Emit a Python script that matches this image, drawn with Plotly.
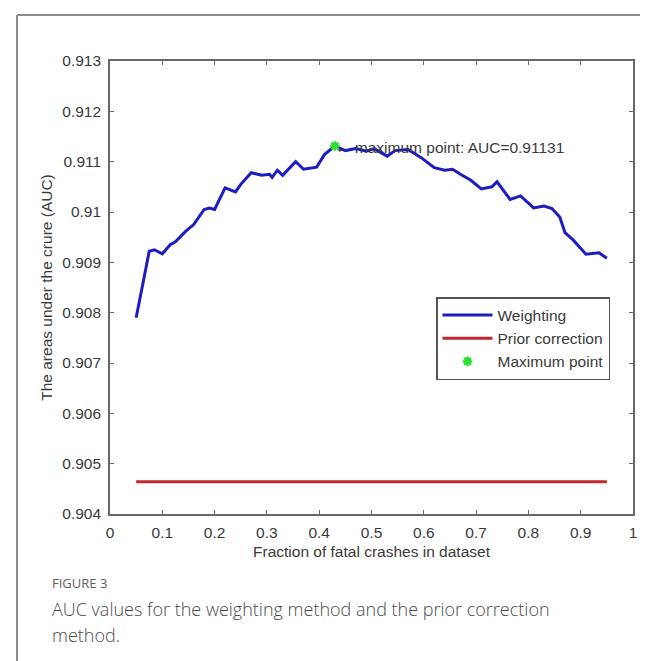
import plotly.graph_objects as go

# Weighting method: AUC vs fraction of fatal crashes
frac_weight = [0.05, 0.075, 0.085, 0.10, 0.115, 0.125, 0.145, 0.16, 0.18, 0.19, 0.20, 0.22,
               0.24, 0.25, 0.27, 0.29, 0.305, 0.31, 0.32, 0.33, 0.355, 0.37, 0.395, 0.41,
               0.43, 0.45, 0.47, 0.49, 0.505, 0.53, 0.545, 0.57, 0.595, 0.62, 0.64, 0.655,
               0.67, 0.69, 0.71, 0.73, 0.74, 0.765, 0.785, 0.81, 0.83, 0.845, 0.86, 0.87,
               0.885, 0.91, 0.935, 0.95]
auc_weight = [0.9079, 0.90922, 0.90925, 0.90917, 0.90935, 0.90941, 0.90962, 0.90975, 0.91005,
              0.91008, 0.91005, 0.91048, 0.9104, 0.91055, 0.91078, 0.91073, 0.91075, 0.91069,
              0.91083, 0.91073, 0.911, 0.91085, 0.91089, 0.91114, 0.91131, 0.91122, 0.91126,
              0.91121, 0.91126, 0.91111, 0.91122, 0.91124, 0.91108, 0.91088, 0.91083, 0.91085,
              0.91075, 0.91063, 0.91046, 0.9105, 0.9106, 0.91025, 0.91032, 0.91008, 0.91012,
              0.91007, 0.9099, 0.90959, 0.90945, 0.90916, 0.90919, 0.90908]

# Prior correction method (constant)
frac_prior = [0.05, 0.95]
auc_prior = [0.90464, 0.90464]

# Maximum point
max_frac = [0.43]
max_auc = [0.91131]

x_ticks = [0, 0.1, 0.2, 0.3, 0.4, 0.5, 0.6, 0.7, 0.8, 0.9, 1]
x_ticktext = ["0", "0.1", "0.2", "0.3", "0.4", "0.5", "0.6", "0.7", "0.8", "0.9", "1"]
y_ticks = [0.904, 0.905, 0.906, 0.907, 0.908, 0.909, 0.910, 0.911, 0.912, 0.913]
y_ticktext = ["0.904", "0.905", "0.906", "0.907", "0.908", "0.909", "0.91", "0.911", "0.912", "0.913"]

W, H = 648, 661
L, R, T, B = 102, 23, 53, 155
pw, ph = W - L - R, H - T - B

def px(x):
    return (x - L) / pw

def py(y):
    return (H - B - y) / ph

FONT = "Liberation Sans, Arial, sans-serif"
FS = 15.5
TXT = "#3a3a3a"
AX = "#686868"

fig = go.Figure()
fig.add_trace(go.Scatter(x=frac_weight, y=auc_weight, mode="lines", name="Weighting",
                         line=dict(color="#1c1cc0", width=3)))
fig.add_trace(go.Scatter(x=frac_prior, y=auc_prior, mode="lines", name="Prior correction",
                         line=dict(color="#c1272d", width=3)))
fig.add_trace(go.Scatter(x=max_frac, y=max_auc, mode="markers", name="Maximum point",
                         marker=dict(symbol="asterisk-open", size=8, color="#2ee02e",
                                     line=dict(color="#2ee02e", width=2.5))))

fig.add_annotation(x=max_frac[0], y=max_auc[0], xref="x", yref="y",
                   text="\u2190 maximum point: AUC=" + f"{max_auc[0]:.5f}",
                   showarrow=False, xanchor="left", yanchor="middle", xshift=-2, yshift=-1,
                   font=dict(family=FONT, size=FS, color=TXT))

axis_common = dict(showline=True, linecolor=AX, linewidth=1.6, mirror="ticks",
                   ticks="inside", ticklen=4, tickcolor=AX, tickwidth=1.3,
                   showgrid=False, zeroline=False,
                   tickfont=dict(family=FONT, size=FS, color=TXT))

fig.update_xaxes(range=[0, 1], tickvals=x_ticks, ticktext=x_ticktext,
                 title=dict(text="Fraction of fatal crashes in dataset",
                            font=dict(family=FONT, size=FS, color=TXT), standoff=6),
                 ticklabelstandoff=4, **axis_common)
fig.update_yaxes(range=[0.904, 0.913], tickvals=y_ticks, ticktext=y_ticktext,
                 title=dict(text="The areas under the crure (AUC)",
                            font=dict(family=FONT, size=FS, color=TXT), standoff=6),
                 ticklabelstandoff=4, **axis_common)

# outer figure frame (top and left visible)
fig.add_shape(type="line", xref="paper", yref="paper", x0=px(9), y0=py(7), x1=px(660), y1=py(7),
              line=dict(color="#8c8c8c", width=2))
fig.add_shape(type="line", xref="paper", yref="paper", x0=px(9), y0=py(7), x1=px(9), y1=py(670),
              line=dict(color="#8c8c8c", width=2))

CAP = "Open Sans, Lato, sans-serif"
fig.add_annotation(xref="paper", yref="paper", x=px(42), y=py(575), text="FIGURE 3",
                   showarrow=False, xanchor="left", yanchor="middle",
                   font=dict(family=CAP, size=13, color="#5e5e5e", weight=400))
fig.add_annotation(xref="paper", yref="paper", x=px(42), y=py(601),
                   text="AUC values for the weighting method and the prior correction",
                   showarrow=False, xanchor="left", yanchor="middle",
                   font=dict(family=CAP, size=18, color="#4a4a4a", weight=300))
fig.add_annotation(xref="paper", yref="paper", x=px(42), y=py(627), text="method.",
                   showarrow=False, xanchor="left", yanchor="middle",
                   font=dict(family=CAP, size=18, color="#4a4a4a", weight=300))

fig.update_layout(
    width=W, height=H,
    margin=dict(l=L, r=R, t=T, b=B, pad=0),
    paper_bgcolor="white", plot_bgcolor="white",
    showlegend=True,
    legend=dict(x=px(428), y=py(289), xanchor="left", yanchor="top",
                bgcolor="white", bordercolor="#555555", borderwidth=1.5,
                font=dict(family=FONT, size=FS, color=TXT), itemwidth=50,
                tracegroupgap=0),
)

fig.write_html("out.html")
